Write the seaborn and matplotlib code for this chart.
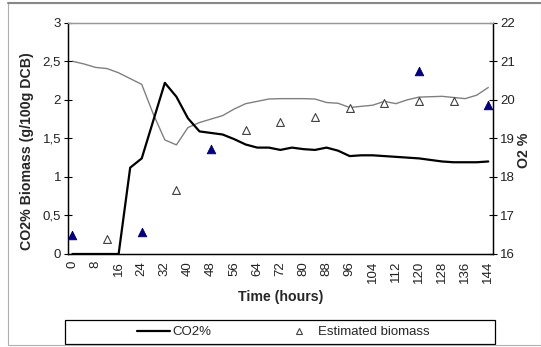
import numpy as np
import pandas as pd
import matplotlib
matplotlib.use("Agg")
import matplotlib.pyplot as plt
import seaborn as sns
from matplotlib.ticker import FuncFormatter, FixedLocator
from matplotlib.lines import Line2D
from matplotlib.patches import Rectangle

# ---- data ----
hours = [0, 4, 8, 12, 16, 20, 24, 28, 32, 36, 40, 44, 48, 52, 56, 60, 64, 68, 72,
         76, 80, 84, 88, 92, 96, 100, 104, 108, 112, 116, 120, 124, 128, 132, 136, 140, 144]
co2 = [0, 0, 0, 0, 0, 1.12, 1.24, 1.73, 2.22, 2.04, 1.76, 1.59, 1.57, 1.55, 1.49, 1.42,
       1.38, 1.38, 1.35, 1.38, 1.36, 1.35, 1.38, 1.34, 1.27, 1.28, 1.28, 1.27, 1.26, 1.25,
       1.24, 1.22, 1.20, 1.19, 1.19, 1.19, 1.20]
o2 = [21.0, 20.93, 20.84, 20.81, 20.7, 20.55, 20.4, 19.63, 18.96, 18.83, 19.28, 19.41,
      19.5, 19.59, 19.76, 19.9, 19.96, 20.02, 20.03, 20.03, 20.03, 20.02, 19.93, 19.91,
      19.8, 19.83, 19.86, 19.96, 19.9, 20.0, 20.07, 20.08, 20.09, 20.06, 20.03, 20.12, 20.32]

est_hours = [12, 36, 60, 72, 84, 96, 108, 120, 132]
est_biomass = [0.19, 0.83, 1.61, 1.71, 1.78, 1.89, 1.96, 1.98, 1.98]

meas_hours = [0, 24, 48, 120, 144]
meas_biomass = [0.24, 0.29, 1.36, 2.38, 1.93]

x_tick_labels = [str(h) for h in range(0, 145, 8)]

# ---- style ----
sns.set_theme(style="white")
plt.rcParams["font.family"] = ["Liberation Sans", "DejaVu Sans"]
plt.rcParams["font.size"] = 9.5

fig = plt.figure(figsize=(5.41, 3.47), dpi=100)
ax = fig.add_axes([68 / 541, 1 - 254 / 347, (493 - 68) / 541, (254 - 22.7) / 347])
ax2 = ax.twinx()

df = pd.DataFrame({"hours": hours, "co2": co2, "o2": o2})
dfe = pd.DataFrame({"hours": est_hours, "biomass": est_biomass})
dfm = pd.DataFrame({"hours": meas_hours, "biomass": meas_biomass})

sns.lineplot(data=df, x="hours", y="o2", ax=ax2, color="#808080", linewidth=1.0)
sns.lineplot(data=df, x="hours", y="co2", ax=ax, color="black", linewidth=1.6)
sns.scatterplot(data=dfe, x="hours", y="biomass", ax=ax, marker="^", s=32,
                facecolor="white", edgecolor="#404040", linewidth=0.8, zorder=5)
sns.scatterplot(data=dfm, x="hours", y="biomass", ax=ax, marker="^", s=38,
                color="#000080", edgecolor="#000060", linewidth=0.6, zorder=6)

ax.set_zorder(ax2.get_zorder() + 1)
ax.patch.set_visible(False)

ax.set_xlim(-4 / 3 - 0.2, 144 + 4 / 3 + 0.3)
ax.set_ylim(0, 3)
ax2.set_ylim(16, 22)

comma = FuncFormatter(lambda v, p: ("%g" % v).replace(".", ","))
ax.yaxis.set_major_locator(FixedLocator(np.arange(0, 3.01, 0.5)))
ax.yaxis.set_major_formatter(comma)
ax2.yaxis.set_major_locator(FixedLocator(np.arange(16, 22.01, 1)))

ax.set_xticks(range(0, 145, 8))
ax.set_xticklabels(x_tick_labels, rotation=90)
ax.set_xticks(np.arange(0, 145, 8 / 3), minor=True)

for a in (ax, ax2):
    a.tick_params(axis="both", which="both", direction="inout", labelsize=9.5,
                  colors="black", labelcolor="#222222")
ax.tick_params(axis="x", which="major", length=6, width=0.8, pad=2)
ax.tick_params(axis="x", which="minor", length=6, width=0.8)
ax.tick_params(axis="y", length=6, width=0.8, pad=2)
ax2.tick_params(axis="y", length=6, width=0.8, pad=2)

for a in (ax, ax2):
    for s in ("left", "right", "bottom"):
        a.spines[s].set_color("black")
        a.spines[s].set_linewidth(0.9)
    a.spines["top"].set_color("#999999")
    a.spines["top"].set_linewidth(0.9)

ax.set_xlabel("Time (hours)", fontweight="bold", fontsize=10.2)
ax.xaxis.set_label_coords(0.5, -0.155)
ax.set_ylabel("CO2% Biomass (g/100g DCB)", fontweight="bold", fontsize=10.2)
ax.yaxis.set_label_coords(-0.08, 0.446)
ax2.set_ylabel("O2 %", fontweight="bold", fontsize=10.2, rotation=90)
ax2.yaxis.set_label_coords(1.057, 0.45)

# legend box
fig.patches.append(Rectangle((65 / 541, 1 - 344 / 347), 430 / 541, 24 / 347,
                             transform=fig.transFigure, fill=False,
                             edgecolor="black", linewidth=0.9))
handles = [Line2D([], [], color="black", linewidth=1.6),
           Line2D([], [], linestyle="none", marker="^", markersize=4.5,
                  markerfacecolor="white", markeredgecolor="#404040", markeredgewidth=0.8)]
fig.legend(handles, ["CO2%", "Estimated biomass"], loc="center left",
           bbox_to_anchor=(137 / 541, 1 - 332 / 347), ncol=2, frameon=False,
           borderpad=0, borderaxespad=0, handlelength=2.5, columnspacing=5.35,
           fontsize=9.5, handletextpad=0.2)

# outer frame
fig.patches.append(Rectangle((8 / 541, 2 / 347), 1 - 8 / 541, 1 - 5 / 347,
                             transform=fig.transFigure, fill=False,
                             edgecolor="#b0b0b0", linewidth=0.8))
fig.add_artist(Line2D([8 / 541, 1], [1 - 3 / 347, 1 - 3 / 347], transform=fig.transFigure,
                      color="#888888", linewidth=1.5))

fig.savefig("out.png", dpi=100)
